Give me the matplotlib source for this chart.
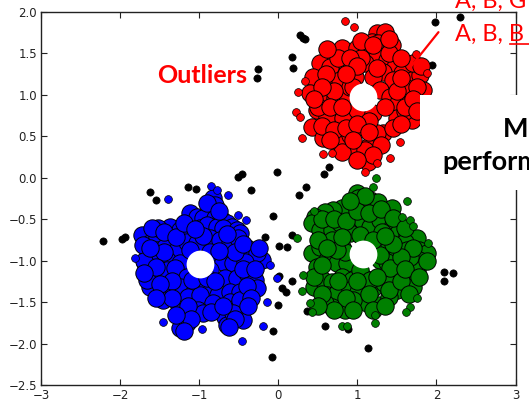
import matplotlib
matplotlib.use("Agg")
import matplotlib.pyplot as plt
from matplotlib.patches import Rectangle

# cluster centres (white markers)
centers_x = [1.07, -0.99, 1.07]
centers_y = [0.97, -1.045, -0.925]

# red cluster - core samples
red_core_x = [1.245, 1.350, 1.181, 1.266, 1.435, 0.696, 0.802, 0.991, 1.118, 1.245, 1.371, 1.477,
              1.561, 0.527, 0.654, 0.865, 1.097, 1.329, 1.688, 1.793, 1.835, 0.443, 0.633, 0.781,
              0.970, 1.202, 1.456, 1.667, 0.401, 0.548, 0.717, 0.865, 1.287, 1.413, 1.519, 1.751,
              0.422, 0.485, 0.612, 0.823, 0.991, 1.202, 1.329, 1.498, 1.688, 0.570, 0.738, 0.907,
              1.076, 1.139, 1.245, 0.991, 1.139, 0.802, 1.097, 1.05, 0.90, 1.15, 1.60, 1.70,
              0.60, 0.75, 0.90, 1.05, 1.40, 1.55, 1.60, 1.75, 1.50, 0.95, 0.70, 0.55, 0.50, 0.65,
              0.80, 1.35, 1.45, 1.60, 1.70, 0.55, 0.70, 0.85, 1.00, 1.15, 0.65, 0.95, 1.30, 1.20,
              1.00, 0.45, 0.62, 1.00, 1.25, 1.20, 1.40, 1.55, 1.75, 1.80, 0.85, 1.55]
red_core_y = [1.743, 1.763, 1.642, 1.622, 1.602, 1.501, 1.562, 1.562, 1.521, 1.461, 1.421, 1.340,
              1.260, 1.381, 1.340, 1.361, 1.381, 1.280, 1.180, 1.240, 1.059, 1.220, 1.139, 1.180,
              1.220, 1.220, 1.180, 1.039, 1.019, 0.938, 0.958, 0.999, 1.059, 0.979, 0.898, 0.898,
              0.617, 0.818, 0.737, 0.717, 0.818, 0.778, 0.536, 0.717, 0.697, 0.476, 0.416, 0.516,
              0.617, 0.375, 0.536, 0.335, 0.194, 0.315, 0.335, 1.45, 1.10, 0.68, 0.80, 1.38,
              1.25, 1.45, 1.45, 1.65, 1.50, 1.45, 1.10, 1.10, 1.05, 1.10, 1.05, 1.10, 0.85, 0.85,
              0.85, 0.85, 0.60, 0.85, 0.95, 0.62, 0.58, 0.60, 0.65, 0.55, 0.45, 0.45, 0.40, 0.28,
              0.22, 0.95, 1.55, 1.35, 1.32, 1.60, 1.68, 0.65, 0.80, 1.35, 1.25, 1.20]
# red cluster - border samples
red_border_x = [0.844, 0.958, 1.743, 1.878, 0.338, 0.254, 0.224, 0.275, 0.296, 0.570, 0.676,
                1.414, 1.540, 1.245, 1.097]
red_border_y = [1.895, 1.823, 1.493, 1.268, 1.172, 1.039, 0.798, 0.737, 0.476, 0.283, 0.295,
                0.235, 0.428, 0.174, 0.074]

# blue cluster - core samples
blue_core_x = [-0.822, -0.801, -0.865, -0.886, -1.118, -1.033, -0.949, -0.801, -0.717, -0.654,
               -0.590, -1.371, -1.244, -1.118, -0.991, -0.907, -0.780, -0.696, -0.527, -0.485,
               -1.730, -1.624, -1.540, -1.645, -1.540, -1.434, -1.287, -1.160, -1.033, -0.865,
               -0.738, -0.611, -0.506, -0.400, -0.358, -0.211, -0.274, -1.582, -1.413, -1.244,
               -0.843, -0.696, -0.569, -0.422, -1.666, -1.561, -1.413, -1.308, -1.160, -0.991,
               -0.865, -0.675, -0.527, -0.400, -0.295, -1.624, -1.476, -1.371, -1.244, -1.054,
               -0.907, -0.759, -0.611, -0.485, -0.274, -1.455, -1.265, -1.139, -0.991, -0.822,
               -0.611, -0.527, -0.485, -1.244, -1.139, -1.012, -0.949, -1.223, -1.160, -1.244,
               -0.675, -0.654, -0.443, -0.569, -1.118, -0.865, -1.097, -0.907, -1.708, -1.687,
               -1.666, -1.519,
               -1.60, -1.45, -1.30, -1.20, -0.65, -0.55, -0.45, -0.30, -0.75, -1.45, -1.70, -1.55,
               -1.35, -1.50, -1.70, -0.80, -0.40, -0.35, -1.35, -1.55, -1.15, -0.85, -0.70, -0.55,
               -1.10, -1.30, -0.95, -1.05, -0.90, -0.75, -0.45, -1.62, -0.25, -0.38, -0.62, -1.20]
blue_core_y = [-0.248, -0.329, -0.409, -0.469, -0.429, -0.469, -0.489, -0.489, -0.510, -0.550,
               -0.590, -0.590, -0.630, -0.630, -0.610, -0.570, -0.590, -0.610, -0.630, -0.670,
               -0.690, -0.791, -0.710, -0.891, -0.871, -0.831, -0.871, -0.771, -0.791, -0.731,
               -0.751, -0.791, -0.731, -0.851, -0.952, -0.992, -0.912, -0.992, -0.992, -1.032,
               -0.972, -1.012, -1.032, -1.012, -1.113, -1.193, -1.113, -1.093, -1.193, -1.233,
               -1.113, -1.213, -1.213, -1.153, -1.233, -1.314, -1.354, -1.334, -1.314, -1.354,
               -1.334, -1.414, -1.374, -1.374, -1.334, -1.475, -1.515, -1.434, -1.414, -1.515,
               -1.495, -1.555, -1.475, -1.615, -1.615, -1.595, -1.635, -1.736, -1.756, -1.816,
               -1.676, -1.776, -1.716, -1.635, -0.871, -0.891, -1.233, -1.213, -0.811, -1.032,
               -1.233, -0.610,
               -0.60, -0.65, -0.72, -0.55, -0.68, -0.90, -1.10, -1.10, -0.88, -0.90, -1.00, -1.08,
               -1.25, -1.28, -1.15, -1.25, -1.30, -1.45, -1.45, -1.45, -1.55, -1.62, -1.55, -1.70,
               -1.70, -1.65, -0.70, -0.62, -0.30, -0.40, -0.80, -0.85, -0.85, -1.55, -1.80, -1.85]
# blue cluster - border samples
blue_border_x = [-1.400, -1.814, -0.852, -0.772, -0.633, -0.506, -0.413, -0.105, -0.139, -0.020,
                 -0.463, -0.962, -1.459, -0.197]
blue_border_y = [-0.259, -0.971, -0.095, -0.147, -0.207, -0.449, -0.509, -1.052, -1.495, -1.212,
                 -1.969, -1.824, -1.736, -1.788]

# green cluster - core samples
green_core_x = [0.992, 1.013, 1.161, 1.266, 1.372, 1.435, 0.908, 0.802, 0.697, 0.591, 0.465,
                0.422, 0.528, 0.676, 0.781, 0.908, 1.055, 1.161, 1.287, 1.456, 1.519, 1.625,
                1.752, 1.604, 0.422, 0.528, 0.676, 0.802, 0.908, 1.034, 1.309, 1.393, 1.498,
                1.625, 1.773, 1.878, 1.773, 0.486, 0.612, 0.739, 0.865, 1.287, 1.372, 1.604,
                1.752, 1.646, 1.562, 0.444, 0.570, 0.676, 0.802, 0.929, 1.076, 1.203, 1.330,
                1.435, 1.498, 1.709, 0.612, 0.739, 0.908, 1.013, 1.119, 1.266, 1.393, 0.676,
                0.844, 0.591, 0.844, 1.287, 1.034, 0.739, 1.414, 1.161, 0.950, 1.667,
                0.55, 0.70, 0.85, 1.00, 1.15, 1.30, 1.45, 1.60, 1.70, 1.55, 1.45, 0.50, 0.62,
                0.45, 0.55, 0.75, 0.85, 1.00, 1.15, 1.25, 1.40, 1.55, 1.60, 1.78, 0.70, 0.95,
                1.20, 1.35, 0.55, 0.80, 1.20, 1.35, 1.10, 0.90, 1.88, 1.65, 0.50]
green_core_y = [-0.188, -0.248, -0.268, -0.288, -0.409, -0.369, -0.429, -0.369, -0.389, -0.409,
                -0.469, -0.550, -0.630, -0.630, -0.550, -0.630, -0.510, -0.590, -0.510, -0.570,
                -0.670, -0.690, -0.731, -0.771, -0.912, -0.831, -0.751, -0.831, -0.670, -0.690,
                -0.650, -0.831, -0.871, -0.871, -0.871, -0.912, -0.992, -1.072, -0.992, -1.032,
                -1.032, -0.992, -1.012, -1.032, -1.113, -1.193, -1.133, -1.314, -1.233, -1.253,
                -1.193, -1.233, -1.193, -1.334, -1.273, -1.253, -1.354, -1.314, -1.414, -1.394,
                -1.354, -1.374, -1.515, -1.535, -1.434, -1.555, -1.595, -1.515, -0.891, -0.932,
                -1.113, -0.871, -1.092, -1.233, -1.475, -0.952,
                -0.50, -0.50, -0.52, -0.40, -0.42, -0.38, -0.48, -0.60, -0.85, -0.95, -0.80,
                -0.75, -0.85, -1.20, -1.40, -1.25, -1.45, -1.25, -1.40, -1.20, -1.35, -1.25,
                -1.10, -1.20, -1.60, -1.60, -1.60, -1.55, -1.05, -0.72, -0.75, -0.70, -0.22,
                -0.28, -1.00, -1.40, -1.55]
# green cluster - border samples
green_border_x = [1.625, 0.444, 1.562, 1.667, 1.701, 1.899, 1.752, 1.667, 1.612, 1.224, 0.317,
                  0.296, 0.401, 0.431, 0.802, 0.865, 1.224, 0.233, 1.203, 1.233]
green_border_y = [-0.280, -0.400, -0.477, -0.509, -0.582, -0.790, -1.454, -1.555, -1.615, -1.755,
                  -1.172, -1.366, -1.514, -1.615, -1.788, -1.788, -1.655, -0.730, -0.107, -0.007]

# noise points
noise_x = [-2.215, -1.982, -1.941, -1.624, -1.548, -1.139, -1.042, -0.506, -0.456, -0.346,
           -0.016, 0.347, 0.258, -0.063, -0.165, 0.170, 0.005, 0.106, 0.013, -0.008, 0.177,
           0.051, 0.097, -0.008, 0.359, -0.063, 0.591, 0.886, 1.139, -0.084, 2.089, 2.208,
           2.101, 0.578, 0.646, 0.275, 0.338, 0.313, 0.177, 0.190, -0.253, -0.273, 1.975,
           2.300, 1.949]
noise_y = [-0.759, -0.742, -0.718, -0.168, -0.268, -0.115, -0.135, 0.013, 0.046, -0.151,
           0.074, -0.115, -0.211, -0.461, -0.714, -0.686, -0.823, -0.835, -1.181, -1.193, -1.245,
           -1.333, -1.374, -1.538, -1.603, -1.848, -1.784, -1.828, -2.057, -2.158, -1.133, -1.145,
           -1.241, 0.042, 0.134, 1.725, 1.671, 1.686, 1.461, 1.321, 1.312, 1.207, 1.883,
           1.936, 1.361]

fig = plt.figure(figsize=(5.29, 3.99), dpi=100)
ax = fig.add_axes([0.0781, 0.0351, 0.8964, 0.9348])

ax.plot(noise_x, noise_y, 'o', color='k', markersize=5.2, markeredgewidth=0.5)

clusters = [
    (red_core_x, red_core_y, red_border_x, red_border_y, '#ff0000'),
    (blue_core_x, blue_core_y, blue_border_x, blue_border_y, '#0000ff'),
    (green_core_x, green_core_y, green_border_x, green_border_y, '#008000'),
]
for cx, cy, bx, by, col in clusters:
    ax.plot(cx, cy, 'o', markerfacecolor=col, markeredgecolor='k',
            markersize=12.5, markeredgewidth=0.7)
    ax.plot(bx, by, 'o', markerfacecolor=col, markeredgecolor='k',
            markersize=5.6, markeredgewidth=0.5)

ax.plot(centers_x, centers_y, 'o', color='white', markersize=20, markeredgewidth=0)

ax.set_xlim(-3, 3)
ax.set_ylim(-2.5, 2.0)
ax.set_xticks([-3, -2, -1, 0, 1, 2, 3])
ax.set_yticks([-2.5, -2.0, -1.5, -1.0, -0.5, 0.0, 0.5, 1.0, 1.5, 2.0])
ax.tick_params(direction='in', top=True, right=True, length=4, width=0.8,
               labelsize=8.5, colors='#222222', pad=3)
for sp in ax.spines.values():
    sp.set_color('#222222')
    sp.set_linewidth(1.0)

# annotation line pointing at a border point
ax.annotate('', xy=(1.642, 1.30), xytext=(2.047, 1.783),
            arrowprops=dict(arrowstyle='-', color='red', lw=1.6),
            annotation_clip=False)

# white panel over the right side of the plot
fig.patches.append(Rectangle((420 / 529, 1 - 190 / 399), 109 / 529, 95 / 399,
                             transform=fig.transFigure, facecolor='white',
                             edgecolor='none', zorder=5))

fig.text(247 / 529, 1 - 83 / 399, 'Outliers', color='red', fontsize=18,
         fontweight='bold', family='Lato', ha='right', va='baseline', zorder=6)
fig.text(455 / 529, 1 - 8 / 399, 'A, B, G', color='red', fontsize=17,
         family='Lato', ha='left', va='baseline', zorder=6)
fig.text(455 / 529, 1 - 41 / 399, 'A, B, B', color='red', fontsize=17,
         family='Lato', ha='left', va='baseline', zorder=6)
fig.add_artist(plt.Line2D([510 / 529, 529 / 529], [1 - 43.5 / 399, 1 - 43.5 / 399],
                          color='red', lw=1.2, zorder=6))
fig.text(503 / 529, 1 - 137 / 399, 'Much', color='black', fontsize=19.5,
         fontweight='bold', family='Lato', ha='left', va='baseline', zorder=6)
fig.text(442 / 529, 1 - 170 / 399, 'performance', color='black', fontsize=19.5,
         fontweight='bold', family='Lato', ha='left', va='baseline', zorder=6)

fig.savefig('out.png', dpi=100)
